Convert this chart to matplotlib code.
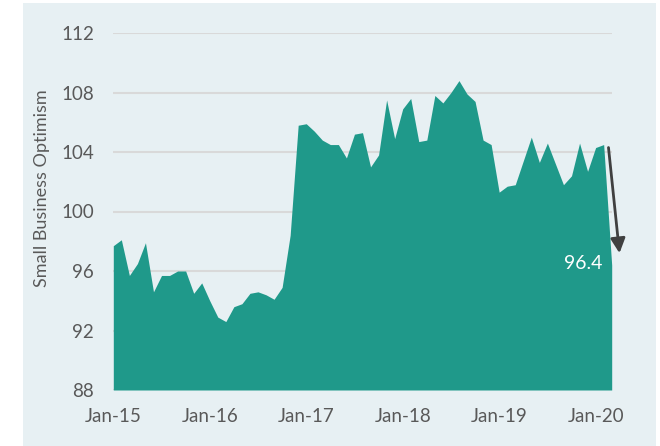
import numpy as np
import matplotlib.pyplot as plt
from matplotlib.patches import Rectangle

plt.rcParams['font.family'] = ['Lato', 'DejaVu Sans']

# monthly index, Jan-15 .. Mar-20
optimism = [97.7, 98.1, 95.7, 96.5, 97.9, 94.6, 95.7, 95.7, 96.0, 96.0, 94.5, 95.2,
            94.0, 92.9, 92.6, 93.6, 93.8, 94.5, 94.6, 94.4, 94.1, 94.9, 98.4, 105.8,
            105.9, 105.4, 104.8, 104.5, 104.5, 103.6, 105.2, 105.3, 103.0, 103.8, 107.5, 104.9,
            106.9, 107.6, 104.7, 104.8, 107.8, 107.3, 108.0, 108.8, 107.9, 107.4, 104.8, 104.5,
            101.3, 101.7, 101.8, 103.4, 105.0, 103.3, 104.6, 103.2, 101.8, 102.4, 104.6, 102.7,
            104.3, 104.5, 96.4]
tick_pos = [0, 12, 24, 36, 48, 60]
tick_labels = ['Jan-15', 'Jan-16', 'Jan-17', 'Jan-18', 'Jan-19', 'Jan-20']
yticks = [88, 92, 96, 100, 104, 108, 112]
last_label = '96.4'

bg = '#e7f0f3'
teal = '#1f998a'
grey = '#595959'

fig = plt.figure(figsize=(6.6, 4.46), dpi=100, facecolor='white')
fig.patches.append(Rectangle((23 / 660, 0), (656 - 23) / 660, 1 - 3 / 446,
                             transform=fig.transFigure, facecolor=bg,
                             edgecolor='none', zorder=-10))
ax = fig.add_axes([113.3 / 660, 1 - 390 / 446, (611.7 - 113.3) / 660, (390 - 33) / 446])
ax.set_facecolor(bg)
ax.patch.set_alpha(0)

x = np.arange(len(optimism))
ax.fill_between(x, 88, optimism, color=teal, lw=0, zorder=2)

ax.set_xlim(0, len(optimism) - 1)
ax.set_ylim(88, 112)
ax.set_yticks(yticks)
ax.set_xticks(tick_pos)
ax.set_xticklabels(tick_labels)
ax.grid(axis='y', color='#d9d9d9', lw=1.5, zorder=1)
ax.set_axisbelow(True)
for s in ax.spines.values():
    s.set_visible(False)
ax.tick_params(length=0, labelsize=13.5, colors=grey)
ax.tick_params(axis='y', pad=14)
ax.tick_params(axis='x', pad=13)

fig.text(41.7 / 660, 1 - 188 / 446, 'Small Business Optimism', rotation=90,
         ha='center', va='center', fontsize=13, color=grey)

ax.annotate('', xy=(62.97, 97.2), xytext=(61.6, 104.3),
            arrowprops=dict(arrowstyle='-|>', color='#404040', lw=2,
                            mutation_scale=22, shrinkA=0, shrinkB=0),
            annotation_clip=False, zorder=5)
ax.text(58.4, 96.5, last_label, color='white', fontsize=14,
        ha='center', va='center', zorder=6)

fig.savefig('out.png', dpi=100, facecolor='white')
